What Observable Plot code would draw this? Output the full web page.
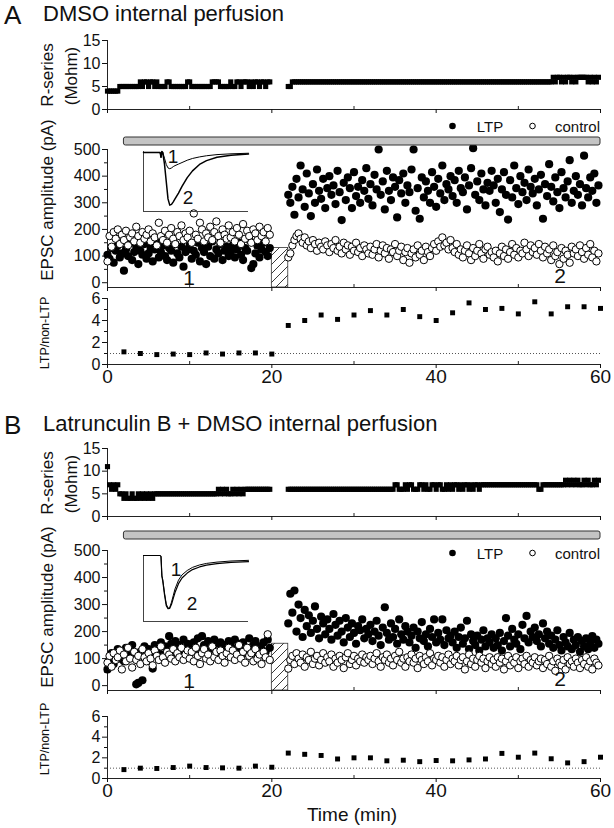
<!DOCTYPE html>
<html><head><meta charset="utf-8">
<script src="https://cdn.jsdelivr.net/npm/d3@7"></script>
<script src="https://cdn.jsdelivr.net/npm/@observablehq/plot@0.6"></script>
<style>
body{margin:0;background:#fff;}
#fig{position:relative;width:614px;height:828px;overflow:hidden;font-family:"Liberation Sans",Arial,Helvetica,sans-serif;color:#111;background:#fff;}
.abs{position:absolute;white-space:nowrap;line-height:1;}
.ctr{position:absolute;white-space:nowrap;line-height:1;transform:translate(-50%,-50%);}
.vl{position:absolute;white-space:nowrap;line-height:1;transform:translate(-50%,-50%) rotate(-90deg);}
</style></head><body><div id="fig"></div>
<script>
// ---------------- DATA ----------------
const SAMPLE_STEP = 0.25;           // min between plotted sweeps
const SEG1_START = 0, SEG2_START = 22;
const drugPeriod = [{start: 2, end: 60}];
const tetanus = {x1: 20, x2: 22};
const traceLabels = ["1", "2"];

// Panel A – R-series (Mohm)
const rA1 = [4,4,4,4,4,4, 5,5,5,5,5,5,5,5,5,5, 6,5,6,6,5,6,6,5,6, 5,5,5,5, 6,6, 5,5,5,5,5,5,5,5, 6,6,5,
  5,5,5,5,5,5,5,5,5, 6,6,6,6, 5,5,5,5,5, 6,5, 5,6,6,5,6,6,6,5,6,5,6,6,5,6,6,5,6,6];
const rA2 = [5,5,6,
  6,6,6,6,6,6,6,6,6,6,6,6,6,6,6,6,6,6,6,6,
  6,6,6,6,6,6,6,6,6,6,6,6,6,6,6,6,6,6,6,6,
  6,6,6,6,6,6,6,6,6,6,6,6,6,6,6,6,6,6,6,6,
  6,6,6,6,6,6,6,6,6,6,6,6,6,6,6,6,6,6,6,6,
  6,6,6,6,6,6,6,6,6,6,6,6,6,6,6,6,6,6,6,6,
  6,6,6,6,6,6,6,6,6,6,6,6,6,6,6,6,6,6,6,6,
  6,6,6,6,6,6,
  7,6,7,7,6,7,6,7,7,6,7,6,7,7,7,7,7,6,7,6,7,6,7];

// Panel A – EPSC amplitude (pA)
const ltpA1 = [105,90,130,75,120,140,95,110,45,125,100,150,85,115,135,70,120,105,145,90,
  110,130,80,125,155,95,115,140,100,85,130,120,75,145,110,95,135,60,115,125,
  140,90,120,105,150,80,130,115,70,135,100,155,90,125,110,145,85,120,135,100,
  115,140,95,125,150,105,85,130,120,160,55,70,110,140,95,125,150,115,100,130];
const ctlA1 = [80,175,135,190,165,200,145,180,160,195,140,170,185,155,210,175,150,190,165,180,
  200,155,185,170,140,225,175,160,195,150,180,205,165,145,190,175,215,160,185,170,
  195,150,260,180,165,225,200,155,185,170,210,160,190,230,175,150,200,180,165,215,
  170,190,155,205,180,145,220,165,195,175,150,200,185,160,210,175,190,155,205,180];
const ltpA2 = [330,300,360,255,390,320,440,350,285,410,335,250,370,300,425,345,315,390,280,355,
  400,330,365,295,420,340,235,375,310,395,355,280,415,325,360,300,385,345,430,315,
  370,290,405,350,500,330,380,275,420,345,310,395,360,245,385,335,410,300,365,340,
  425,500,270,355,240,395,320,380,345,300,415,360,285,390,335,440,310,370,350,400,
  325,385,300,420,355,340,395,275,365,430,505,330,380,310,410,350,290,375,345,420,
  365,300,390,265,350,415,330,237,385,320,440,355,295,400,340,375,310,425,360,335,
  390,290,350,405,240,370,325,445,360,305,395,340,280,415,355,320,380,460,300,345,
  400,330,370,290,477,355,320,395,345,410,300,365];
const ctlA2 = [95,110,140,160,175,185,165,150,170,140,155,130,160,145,120,150,135,125,155,140,
  115,145,130,160,120,135,110,150,125,140,105,135,120,150,115,130,100,140,125,110,
  135,105,125,145,95,120,140,110,130,90,125,115,145,100,120,135,85,115,130,75,
  110,125,95,140,105,120,85,135,115,100,130,145,120,155,135,170,140,150,125,160,
  130,115,145,105,125,95,120,140,110,85,130,100,120,145,110,90,125,135,105,115,
  95,120,80,110,135,100,125,90,115,145,105,130,95,120,110,150,125,100,140,115,
  130,105,145,120,95,135,110,125,85,140,100,115,70,130,90,120,105,75,135,110,
  125,100,140,115,90,130,105,145,95,120,80,110];

// Panel B – R-series (Mohm)
const rB1 = [11, 7,6,7,6,7,
  5,5,4,5,4,4,5,4,4,5,4,5,4,5,4,5,4,5,
  5,5,5,5,5,5,5,5,5,5,5,5,5,5,5,5,5,5,5,5,5,5,5,5,5,5,5,5,5,5,
  6,5,6,5,6,5,5,6,5,6,5,6,5,
  6,6,6,6,6,6,6,6,6,6,6,6,6];
const rB2 = [6,6,6,6,6,6,6,6,6,6,6,6,6,6,6,6,6,6,6,6,
  6,6,6,6,6,6,6,6,6,6,6,6,6,6,6,6,6,6,6,6,
  6,6,6,6,6,6,6,6,6,6,6,6,
  7,7,6, 6,6, 7,6,7,7, 6,6,6,7, 7,6,7, 6,6,
  7,7,6,7,7,6,6,7,6,7,6,7,7,6,7,6,7,7,6,7,6,7,7,6,
  7,7,7,7,7,7,7,7,7,7,7,7,7,7,7,7,7,7,7,7,7,7,7,7,7,7,7,7,
  6,6,
  7,7,7,7,7,7,7,7,7,7,7,
  8,7,8,7,8,7,8,7,7,8,7,8,7,7,8,7,8];

// Panel B – EPSC amplitude (pA)
const ltpB1 = [60,95,120,80,110,135,100,125,90,140,115,130,150,105,5,10,125,20,145,110,
  135,120,63,150,125,140,160,115,145,130,183,155,120,165,140,150,125,170,135,155,
  145,125,160,140,175,130,183,150,120,165,145,135,170,155,125,160,140,150,130,165,
  150,135,170,125,155,145,160,120,140,175,130,150,165,115,145,135,160,125,170,140];
const ctlB1 = [85,110,70,120,95,105,130,60,115,90,140,100,67,125,95,110,80,135,105,90,
  120,100,75,130,110,95,145,105,85,125,115,100,135,90,120,105,140,95,115,130,
  100,125,90,140,110,80,120,135,100,115,90,145,105,125,95,130,110,85,120,140,
  105,130,95,115,150,100,125,85,140,110,120,90,135,100,115,80,125,105,190,95];
const ltpB2 = [230,340,270,352,200,300,250,180,280,220,260,195,240,293,210,175,255,230,190,245,
  210,170,265,225,185,240,200,160,250,215,180,230,195,155,220,205,245,175,210,190,
  225,165,200,240,185,150,215,290,195,170,230,180,210,155,245,190,170,220,200,160,
  185,215,140,200,175,235,165,190,145,210,180,245,160,195,170,245,150,205,175,185,
  160,200,140,180,215,155,175,240,135,190,165,150,185,130,170,205,145,175,160,190,
  140,175,150,195,130,165,250,185,145,210,170,155,190,135,225,175,258,160,200,180,
  215,165,190,145,230,175,200,155,185,140,170,205,150,130,180,160,145,195,135,170,
  150,180,125,165,145,175,135,160,183,140,170,155];
const ctlB2 = [63,95,110,80,120,100,85,115,70,105,95,125,80,100,110,75,95,120,85,105,
  90,115,70,100,85,110,95,65,105,120,80,95,110,75,100,90,115,85,105,95,
  110,80,100,120,90,70,105,95,115,85,100,75,110,95,125,85,100,70,105,90,
  115,85,100,65,110,95,80,105,90,120,75,100,95,110,85,105,70,95,115,80,
  100,90,110,75,95,105,60,90,115,80,100,70,95,110,85,100,65,90,105,80,
  95,70,105,85,100,60,90,110,75,95,85,105,65,90,100,80,110,70,95,85,
  105,75,90,100,65,95,80,110,70,90,55,100,85,75,95,60,105,80,90,70,
  100,85,65,95,80,105,70,90,60,100,85,75];

// LTP / non-LTP ratio (2-min bins)
const ratioTimes = [2,4,6,8,10,12,14,16,18,20,22,24,26,28,30,32,34,36,38,40,42,44,46,48,50,52,54,56,58,60];
const ratioA = [1.15,1.0,0.9,0.95,0.9,1.05,0.95,1.05,1.05,0.95,
  3.55,4.0,4.5,4.1,4.5,4.9,4.5,5.0,4.35,4.0,4.7,5.6,5.0,5.1,4.6,5.7,4.6,5.25,5.25,5.1];
const ratioB = [0.86,1.0,0.97,1.06,1.2,1.06,1.03,1.0,1.2,1.09,
  2.46,2.34,2.23,1.89,2.0,2.0,1.71,1.77,1.63,1.74,1.71,1.8,1.89,2.43,2.06,2.46,1.91,1.51,1.63,2.06];

// Inset EPSC traces (ms, pA)
const traceTime = [0,9.5,10,10.5,11,12,13,14,15,16,17,18,20,22,25,28,32,36,42,50,60];
const traceA1 = [0,0,-25,5,0,-30,-62,-80,-84,-80,-73,-68,-60,-52,-40,-31,-23,-17,-11,-7,-4];
const traceA2 = [0,0,-25,5,0,-60,-150,-240,-272,-268,-255,-240,-210,-175,-130,-95,-62,-42,-25,-14,-8];
const traceB1 = [0,0,-5,-90,-110,-170,-220,-240,-236,-212,-182,-152,-112,-88,-68,-54,-43,-36,-30,-25,-22];
const traceB2 = [0,0,-5,-95,-115,-178,-228,-242,-240,-222,-195,-168,-128,-102,-80,-64,-52,-44,-37,-31,-28];

// axis ticks
const X_MAJOR = [0,20,40,60], X_MINOR = [10,30,50];
const R_TICKS = [0,5,10,15];
const E_TICKS = [0,100,200,300,400,500], E_MINOR = [50,150,250,350,450];
const Q_TICKS = [0,2,4,6], Q_MINOR = [1,3,5];

// ---------------- DRAWING ----------------
const FONT = '"Liberation Sans", Arial, Helvetica, sans-serif';
const fig = document.getElementById("fig");
const STYLE = {background: "transparent", overflow: "visible", fontFamily: FONT, fontSize: "16px", color: "#111"};

function seriesFrom(values, start) { return values.map((v, i) => ({t: start + i * SAMPLE_STEP, v})); }
function both(a, b) { return seriesFrom(a, SEG1_START).concat(seriesFrom(b, SEG2_START)); }
function place(el, top, left = 0) { el.style.position = "absolute"; el.style.left = left + "px"; el.style.top = top + "px"; fig.appendChild(el); return el; }
function text(s, left, baseline, size, cls = "abs") {
  const d = document.createElement("div"); d.className = cls; d.textContent = s;
  d.style.fontSize = size + "px"; d.style.left = left + "px"; d.style.top = (baseline - 0.846 * size) + "px";
  fig.appendChild(d); return d;
}
function ctext(s, cx, cy, size, cls = "ctr") {
  const d = document.createElement("div"); d.className = cls; d.textContent = s;
  d.style.fontSize = size + "px"; d.style.left = cx + "px"; d.style.top = cy + "px";
  fig.appendChild(d); return d;
}
function xAxis(yMin, labels) {
  return [
    Plot.ruleY([yMin], {stroke: "#222"}),
    Plot.axisX(X_MAJOR, {anchor: "bottom", tickSize: 4, tickPadding: 1, fontSize: 19,
      tickFormat: labels ? (d => String(d)) : (() => ""), label: null}),
    Plot.ruleX(X_MINOR, {y1: yMin, y2: yMin, insetTop: -3, stroke: "#222"})
  ];
}
function yAxis(major, minor) {
  const m = [Plot.ruleX([0], {stroke: "#222"}),
    Plot.axisY(major, {anchor: "left", tickSize: 5, tickPadding: 2, fontSize: 16, label: null})];
  if (minor) m.push(Plot.axisY(minor, {anchor: "left", tickSize: 3, tickFormat: () => "", label: null}));
  return m;
}
function frame(top, height, mt, mb, yDomain, marks) {
  const p = Plot.plot({width: 614, height, marginLeft: 107, marginRight: 14, marginTop: mt, marginBottom: mb,
    x: {domain: [0, 60], axis: null}, y: {domain: yDomain, axis: null}, style: STYLE, marks});
  return place(p, top);
}
function legend(y) {
  const s = d3.create("svg").attr("width", 160).attr("height", 20).style("position", "absolute")
    .style("left", "440px").style("top", (y - 10) + "px").style("overflow", "visible");
  s.append("circle").attr("cx", 12.5).attr("cy", 10).attr("r", 3.3).attr("fill", "#000");
  s.append("circle").attr("cx", 92.5).attr("cy", 10).attr("r", 2.8).attr("fill", "#fff").attr("stroke", "#000").attr("stroke-width", 1);
  fig.appendChild(s.node());
  ctext("LTP", 490, y, 15);
  text("control", 555, y + 5.5, 15);
}

function panel(c) {
  text(c.letter, 4, c.titleBase + 2, 26);
  text(c.title, 43, c.titleBase, 22);

  // R-series
  frame(c.rTop, c.rH, 10, c.rMb, [0, 15], [
    ...xAxis(0, false), ...yAxis(R_TICKS, null),
    Plot.dot(both(c.r1, c.r2), {x: "t", y: "v", symbol: "square", r: 2.9, fill: "#000"})
  ]);
  ctext("R-series", 47, c.rTop + 45, 17, "vl");
  ctext("(Mohm)", 71, c.rTop + 46, 17, "vl");

  // EPSC
  const yMin = -18;
  const ep = frame(c.eTop, c.eH, c.eMt, 5, [yMin, 500], [
    Plot.rect([tetanus], {x1: "x1", x2: "x2", y1: yMin, y2: c.hatchTop, fill: "url(#hatch)", stroke: "#333", strokeWidth: 0.8}),
    ...xAxis(yMin, false), ...yAxis(E_TICKS, E_MINOR),
    Plot.dot(both(c.l1, c.l2), {x: "t", y: "v", r: 4.1, fill: "#000"}),
    Plot.dot(both(c.c1, c.c2), {x: "t", y: "v", r: 3.7, fill: "#fff", stroke: "#000", strokeWidth: 1})
  ]);
  d3.select(ep).insert("defs", ":first-child").html(
    '<pattern id="hatch" patternUnits="userSpaceOnUse" width="9" height="9">' +
    '<path d="M-1,1 l2,-2 M0,9 l9,-9 M8,10 l2,-2" stroke="#222" stroke-width="0.9"/></pattern>');
  ctext("EPSC amplitude (pA)", 47, c.eLabelY, 17, "vl");
  ctext(traceLabels[0], 189, c.eTop + c.eH - 15, 21);
  ctext(traceLabels[1], 560, c.eTop + c.eH - 17, 21);

  // drug bar
  place(Plot.plot({width: 614, height: 8, marginLeft: 107, marginRight: 14, marginTop: 0, marginBottom: 0,
    x: {domain: [0, 60], axis: null}, y: {domain: [0, 1], axis: null}, style: STYLE,
    marks: [Plot.rect(drugPeriod, {x1: "start", x2: "end", y1: 0, y2: 1, fill: "#c4c4c4", stroke: "#333", strokeWidth: 1, rx: 2})]}), c.barTop);
  legend(c.legendY);

  // inset traces
  const tr = (vals) => traceTime.map((t, i) => ({t, v: vals[i]}));
  place(Plot.plot({width: 106, height: c.iH, marginLeft: 0, marginRight: 1, marginTop: 1, marginBottom: 1,
    x: {domain: [0, 60], axis: null}, y: {domain: c.iDomain, axis: null}, style: STYLE,
    marks: [Plot.ruleX([0], {stroke: "#444"}), Plot.ruleY([c.iDomain[0]], {stroke: "#444"}),
      Plot.line(tr(c.t1), {x: "t", y: "v", stroke: "#000", strokeWidth: 1}),
      Plot.line(tr(c.t2), {x: "t", y: "v", stroke: "#000", strokeWidth: c.t2w})]}), c.iTop, 143);
  ctext(traceLabels[0], c.i1[0], c.i1[1], 19);
  ctext(traceLabels[1], c.i2[0], c.i2[1], 19);

  // ratio
  frame(c.qTop, 100, 8, c.qMb, [0, 6], [
    Plot.ruleY([1], {stroke: "#555", strokeDasharray: "1,2", strokeWidth: 1}),
    ...xAxis(0, true), ...yAxis(Q_TICKS, Q_MINOR),
    Plot.dot(ratioTimes.map((t, i) => ({t, v: c.q[i]})), {x: "t", y: "v", symbol: "square", r: 2.8, fill: "#000"})
  ]);
  ctext("LTP/non-LTP", 45, c.qLabelY, 12.5, "vl");
}

panel({letter: "A", title: "DMSO internal perfusion", titleBase: 22,
  rTop: 30, rH: 86, rMb: 7, r1: rA1, r2: rA2,
  eTop: 140, eH: 152, eMt: 9, hatchTop: 130, eLabelY: 200,
  l1: ltpA1, l2: ltpA2, c1: ctlA1, c2: ctlA2,
  barTop: 137, legendY: 126,
  iTop: 150, iH: 62, iDomain: [-305, 5], t1: traceA1, t2: traceA2, t2w: 1.5, i1: [173, 156], i2: [188, 197],
  qTop: 290, qMb: 26, q: ratioA, qLabelY: 333});

panel({letter: "B", title: "Latrunculin B + DMSO internal perfusion", titleBase: 432,
  rTop: 438, rH: 84, rMb: 6, r1: rB1, r2: rB2,
  eTop: 540, eH: 155, eMt: 10, hatchTop: 155, eLabelY: 607,
  l1: ltpB1, l2: ltpB2, c1: ctlB1, c2: ctlB2,
  barTop: 531, legendY: 553,
  iTop: 554, iH: 68, iDomain: [-300, 0], t1: traceB1, t2: traceB2, t2w: 1.2, i1: [176, 569], i2: [192, 603],
  qTop: 708, qMb: 30, q: ratioB, qLabelY: 739});

ctext("Time (min)", 352, 814, 19);
</script></body></html>
